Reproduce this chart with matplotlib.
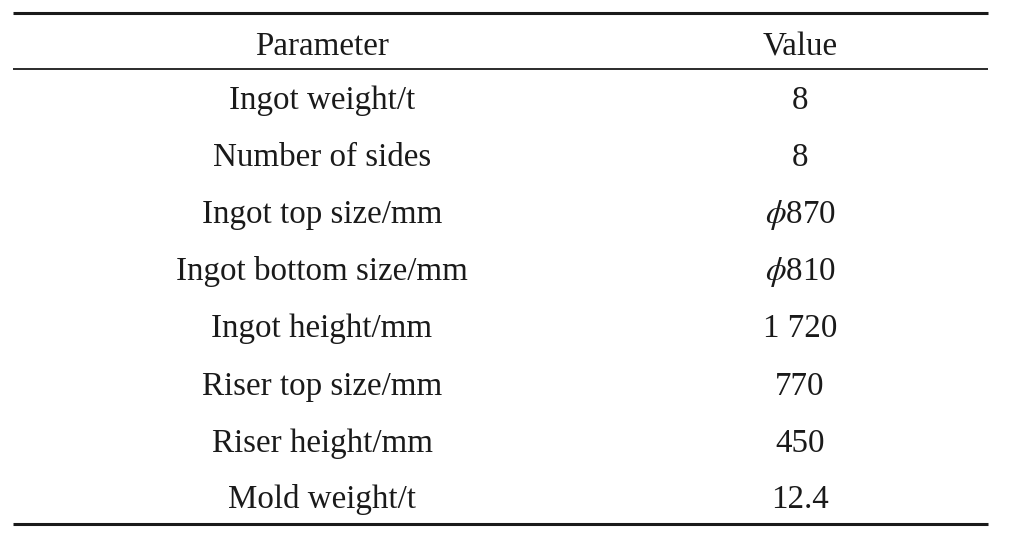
import matplotlib
matplotlib.use('Agg')
import matplotlib.pyplot as plt

plt.rcParams['font.family'] = ['Liberation Serif', 'DejaVu Serif']
plt.rcParams['mathtext.fontset'] = 'stix'

header = ['Parameter', 'Value']
parameters = ['Ingot weight/t', 'Number of sides', 'Ingot top size/mm',
              'Ingot bottom size/mm', 'Ingot height/mm', 'Riser top size/mm',
              'Riser height/mm', 'Mold weight/t']
values = ['8', '8', r'$\phi$870', r'$\phi$810', '1 720', '770', '450', '12.4']

fig = plt.figure(figsize=(10.16, 5.51), dpi=100)
ax = fig.add_axes([0, 0, 1, 1])
ax.set_xlim(0, 1016)
ax.set_ylim(551, 0)
ax.axis('off')

col_x = [322, 800]
fs = 23.8
ink = '#1a1a1a'

# rules
ax.plot([13, 988], [12.5, 12.5], color=ink, lw=2.2, solid_capstyle='butt')
ax.plot([13, 988], [68.5, 68.5], color=ink, lw=1.3, solid_capstyle='butt')
ax.plot([13, 988], [524, 524], color=ink, lw=2.2, solid_capstyle='butt')

for x, h in zip(col_x, header):
    ax.text(x, 55, h, ha='center', va='baseline', fontsize=fs, color=ink)

# baselines of the body rows
row_y = [109, 166, 223, 280, 337, 395, 452, 508]
for y, p, v in zip(row_y, parameters, values):
    ax.text(col_x[0], y, p, ha='center', va='baseline', fontsize=fs, color=ink)
    ax.text(col_x[1], y, v, ha='center', va='baseline', fontsize=fs, color=ink)

fig.savefig('out.png', dpi=100)
